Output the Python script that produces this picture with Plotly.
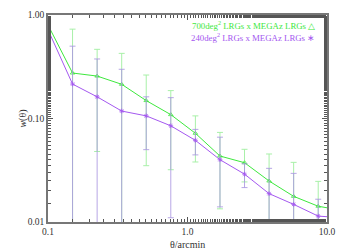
import plotly.graph_objects as go

theta = [0.1, 0.15, 0.225, 0.3375, 0.506, 0.759, 1.139, 1.709, 2.563, 3.844, 5.767, 8.65, 12.97]
w_700 = [0.80, 0.275, 0.257, 0.214, 0.149, 0.109, 0.072, 0.0434, 0.0374, 0.0249, 0.0177, 0.0142, 0.0129]
err_700 = [0.06, 0.455, 0.209, 0.212, 0.114, 0.077, 0.034, 0.030, 0.013, 0.0205, 0.020, 0.0105, 0.006]
w_240 = [0.72, 0.215, 0.162, 0.118, 0.106, 0.085, 0.0615, 0.040, 0.029, 0.0188, 0.0148, 0.0114, 0.011]
err_240 = [0.10, 0.285, 0.214, 0.181, 0.056, 0.074, 0.017, 0.026, 0.0075, 0.0142, 0.0147, 0.0052, 0.005]

x_ticks = [0.1, 1.0, 10.0]
x_labels = ["0.1", "1.0", "10.0"]
y_ticks = [0.01, 0.1, 1.0]
y_labels = ["0.01", "0.10", "1.00"]

green = "#3ee83e"
purple = "#a458f0"
serif = "Liberation Serif, Times New Roman, serif"

fig = go.Figure()
fig.add_trace(go.Scatter(
    x=theta, y=w_700, mode="lines+markers",
    line=dict(color=green, width=1),
    marker=dict(symbol="triangle-up-open", size=4, color=green, line=dict(width=0.8)),
    error_y=dict(type="data", array=err_700, color="#a8f0a8", thickness=1, width=3),
    showlegend=False,
))
fig.add_trace(go.Scatter(
    x=theta, y=w_240, mode="lines+markers",
    line=dict(color=purple, width=1),
    marker=dict(symbol="asterisk-open", size=4, color=purple, line=dict(width=0.8, color=purple)),
    error_y=dict(type="data", array=err_240, color="rgba(170,150,225,0.85)", thickness=1, width=3),
    showlegend=False,
))

axis_common = dict(
    type="log", showgrid=False, zeroline=False, showline=True, mirror="ticks",
    automargin=False,
    linecolor="#777", linewidth=1.5, ticks="inside", ticklen=5, tickcolor="#555",
    tickfont=dict(family=serif, size=9.5, color="#333"),
    minor=dict(ticks="inside", ticklen=3, tickcolor="#555", showgrid=False),
)

fig.update_layout(
    width=342, height=252,
    margin=dict(l=48, r=15, t=15, b=30, autoexpand=False),
    paper_bgcolor="white", plot_bgcolor="white",
    xaxis=dict(axis_common, range=[-1, 1], tickvals=x_ticks, ticktext=x_labels),
    yaxis=dict(axis_common, range=[-2, 0], tickvals=y_ticks, ticktext=y_labels),
    annotations=[
        dict(xref="paper", yref="paper", x=0.965, y=0.95, xanchor="right", yanchor="middle",
             text="700deg<sup>2</sup> LRGs x MEGAz LRGs △", showarrow=False,
             font=dict(family=serif, size=8.8, color=green)),
        dict(xref="paper", yref="paper", x=0.965, y=0.892, xanchor="right", yanchor="middle",
             text="240deg<sup>2</sup> LRGs x MEGAz LRGs ∗", showarrow=False,
             font=dict(family=serif, size=8.8, color=purple)),
        dict(xref="paper", yref="paper", x=0.5, y=-0.107, xanchor="center", yanchor="middle",
             text="θ/arcmin", showarrow=False,
             font=dict(family=serif, size=10, color="#333")),
        dict(xref="paper", yref="paper", x=-0.093, y=0.5, xanchor="center", yanchor="middle",
             text="<i>w</i>(θ)", showarrow=False, textangle=-90,
             font=dict(family=serif, size=10, color="#333")),
    ],
)

fig.write_html("out.html", config={"displayModeBar": False},
               post_script="document.body.style.margin='0';")
